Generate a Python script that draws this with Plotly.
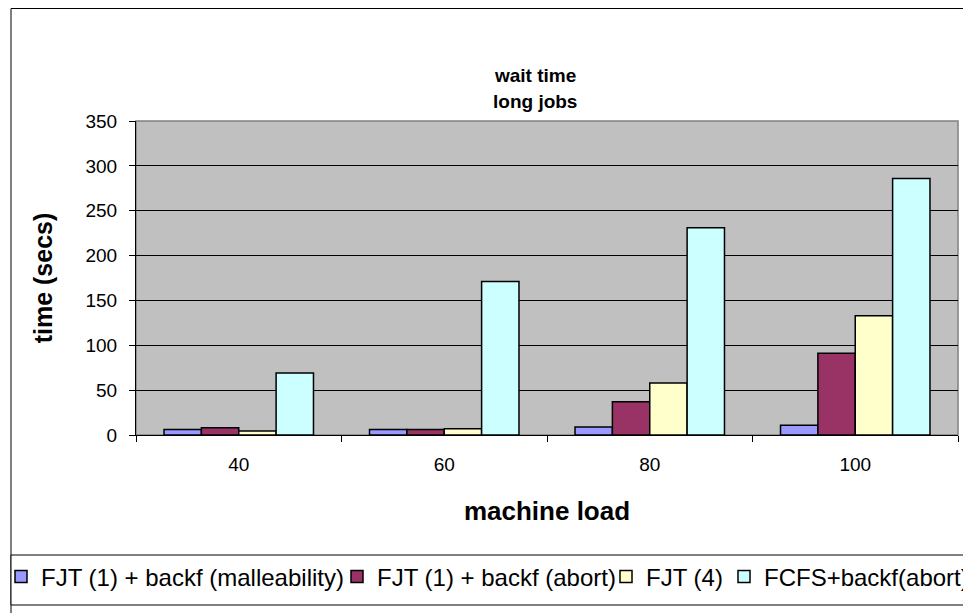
import plotly.graph_objects as go

# ---- data ----
loads = ["40", "60", "80", "100"]
series_names = [
    "FJT (1) + backf (malleability)",
    "FJT (1) + backf (abort)",
    "FJT (4)",
    "FCFS+backf(abort)",
]
malleability = [6, 6, 9, 11]
abort_fjt1 = [8, 6, 37, 91]
fjt4 = [4.5, 7, 58, 133]
fcfs_abort = [69, 171, 231, 286]
y_ticks = [0, 50, 100, 150, 200, 250, 300, 350]
title_lines = ["wait time", "long jobs"]

colors = ["#9999FF", "#993366", "#FFFFCC", "#CCFFFF"]
all_values = [malleability, abort_fjt1, fjt4, fcfs_abort]

OFF = 8  # page body margin
W, H = 971 - OFF, 613 - OFF
# plot area, page pixels
PL, PR, PT, PB = 136, 958, 121, 435
L, R, T, B = PL - OFF, PR - OFF, PT - OFF, PB - OFF


def px(x_page):
    return (x_page - OFF - L) / (R - L)


def py(y_page):
    return (B - (y_page - OFF)) / (B - T)


FONT = "Liberation Sans, Arial, Helvetica, sans-serif"

# page x of each legend entry's left edge (one legend box per entry)
legend_x_page = [1, 337, 606, 724]
legend_ids = ["legend", "legend2", "legend3", "legend4"]

fig = go.Figure()
for name, vals, col, lid in zip(series_names, all_values, colors, legend_ids):
    fig.add_trace(go.Bar(
        x=loads, y=vals, name=name, legend=lid, showlegend=True,
        marker=dict(color=col, line=dict(color="#000000", width=1.5)),
    ))

shapes = [
    # chart outer border
    dict(type="rect", xref="paper", yref="paper",
         x0=px(11), x1=px(1000), y0=py(8.5), y1=py(650),
         line=dict(color="#000000", width=1), fillcolor="rgba(0,0,0,0)", layer="below"),
    # plot area border (gray)
    dict(type="rect", xref="paper", yref="paper",
         x0=0, x1=1, y0=0, y1=1,
         line=dict(color="#808080", width=1.5), fillcolor="rgba(0,0,0,0)", layer="below"),
    # legend box
    dict(type="rect", xref="paper", yref="paper",
         x0=px(11), x1=px(1000), y0=py(555), y1=py(605),
         line=dict(color="#000000", width=1), fillcolor="#FFFFFF", layer="below"),
]

annotations = [
    dict(text="<b>%s</b>" % title_lines[0], xref="paper", yref="paper",
         x=px(535), y=py(75), xanchor="center", yanchor="middle",
         showarrow=False, font=dict(family=FONT, size=19, color="#000000")),
    dict(text="<b>%s</b>" % title_lines[1], xref="paper", yref="paper",
         x=px(535), y=py(101), xanchor="center", yanchor="middle",
         showarrow=False, font=dict(family=FONT, size=19, color="#000000")),
]

legend_common = dict(
    orientation="h", xanchor="left",
    y=py(577), yanchor="middle",
    bgcolor="rgba(0,0,0,0)", borderwidth=0,
    font=dict(family=FONT, size=24, color="#000000"),
    itemclick=False, itemdoubleclick=False,
)
legend_layouts = {lid: dict(legend_common, x=px(xp))
                  for lid, xp in zip(legend_ids, legend_x_page)}

fig.update_layout(
    width=W, height=H,
    margin=dict(l=L, r=W - R, t=T, b=H - B, pad=0, autoexpand=False),
    showlegend=True,
    paper_bgcolor="#FFFFFF",
    plot_bgcolor="#C0C0C0",
    barmode="group",
    bargap=1.5 / 5.5,
    bargroupgap=0,
    font=dict(family=FONT, color="#000000", size=19),
    xaxis=dict(
        showline=True, linecolor="#000000", linewidth=1,
        ticks="outside", ticklen=6, tickcolor="#000000", tickwidth=1,
        tickson="boundaries", showgrid=False,
        ticklabelstandoff=12,
        tickfont=dict(size=19),
        title=dict(text="<b>machine load</b>", font=dict(size=26), standoff=28),
    ),
    yaxis=dict(
        range=[0, 350], tickvals=y_ticks,
        showline=True, linecolor="#000000", linewidth=1,
        ticks="outside", ticklen=6, tickcolor="#000000", tickwidth=1,
        showgrid=True, gridcolor="#000000", gridwidth=1,
        zeroline=False,
        ticklabelstandoff=8,
        tickfont=dict(size=19),
        title=dict(text="<b>time (secs)</b>", font=dict(size=25), standoff=25),
    ),
    annotations=annotations,
    shapes=shapes,
    **legend_layouts,
)

fig.write_html("out.html")
